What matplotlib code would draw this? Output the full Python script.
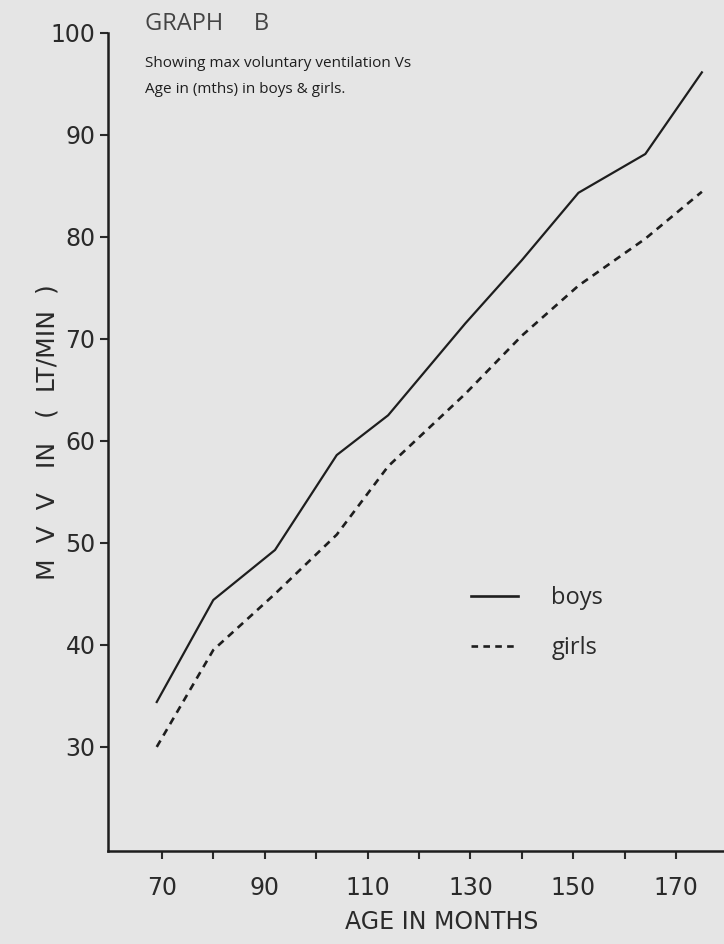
import matplotlib
matplotlib.use("Agg")
import matplotlib.pyplot as plt
from matplotlib.lines import Line2D

# Data
age_months = [69, 80, 92, 104, 114, 129, 140, 151, 164, 175]
boys_mvv = [34.4, 44.4, 49.3, 58.6, 62.5, 71.5, 77.7, 84.3, 88.1, 96.1]
girls_mvv = [30.0, 39.5, 45.0, 50.8, 57.5, 64.6, 70.3, 75.2, 79.8, 84.4]
x_ticks = [70, 80, 90, 100, 110, 120, 130, 140, 150, 160, 170]
x_tick_labels = ["70", "", "90", "", "110", "", "130", "", "150", "", "170"]
y_ticks = [30, 40, 50, 60, 70, 80, 90, 100]
y_tick_labels = ["30", "40", "50", "60", "70", "80", "90", "100"]

bg = "#e5e5e5"
ink = "#1e1e1e"

plt.rcParams['font.family'] = ['DejaVu Sans']

fig = plt.figure(figsize=(7.24, 9.44), dpi=100, facecolor=bg)
ax = fig.add_axes([0.149, 0.0985, 0.851, 0.867])
ax.set_facecolor(bg)

ax.plot(age_months, boys_mvv, color=ink, lw=1.6, solid_joinstyle='round')
ax.plot(age_months, girls_mvv, color=ink, lw=1.9, linestyle=(0, (2.8, 2.2)))

ax.set_xlim(59.5, 179.3)
ax.set_ylim(19.8, 100)

for s in ['top', 'right']:
    ax.spines[s].set_visible(False)
for s in ['left', 'bottom']:
    ax.spines[s].set_color(ink)
    ax.spines[s].set_linewidth(1.8)

ax.set_xticks(x_ticks)
ax.set_xticklabels(x_tick_labels)
ax.set_yticks(y_ticks)
ax.set_yticklabels(y_tick_labels)
ax.tick_params(axis='both', colors="#2a2a2a", labelsize=17, width=1.5, length=6, direction='out')
ax.tick_params(axis='x', pad=12)
ax.tick_params(axis='y', pad=3)

ax.set_xlabel("AGE IN MONTHS", fontsize=17, color="#2a2a2a")
ax.xaxis.set_label_coords(0.542, -0.072)
ax.set_ylabel("M  V  V   IN   (  LT/MIN  )", fontsize=18, color="#2a2a2a")
ax.yaxis.set_label_coords(-0.078, 0.512)

fig.text(0.2, 0.987, "GRAPH     B", fontsize=17, color="#444444", va='top', ha='left',
         family='Open Sans')
fig.text(0.2, 0.941, "Showing max voluntary ventilation Vs", fontsize=11, color=ink,
         va='top', ha='left', family='Open Sans')
fig.text(0.2, 0.913, "Age in (mths) in boys & girls.", fontsize=11, color=ink,
         va='top', ha='left', family='Open Sans')

handles = [Line2D([], [], color=ink, lw=1.9),
           Line2D([], [], color=ink, lw=1.9, linestyle=(0, (2.5, 2)))]
leg = ax.legend(handles, ["boys", "girls"], loc='upper left',
                bbox_to_anchor=(0.555, 0.35), frameon=False,
                prop={'family': 'Open Sans', 'size': 17},
                handlelength=2.0, handletextpad=1.4, labelspacing=1.1,
                labelcolor="#2a2a2a")

fig.savefig("out.png", dpi=100, facecolor=bg)
